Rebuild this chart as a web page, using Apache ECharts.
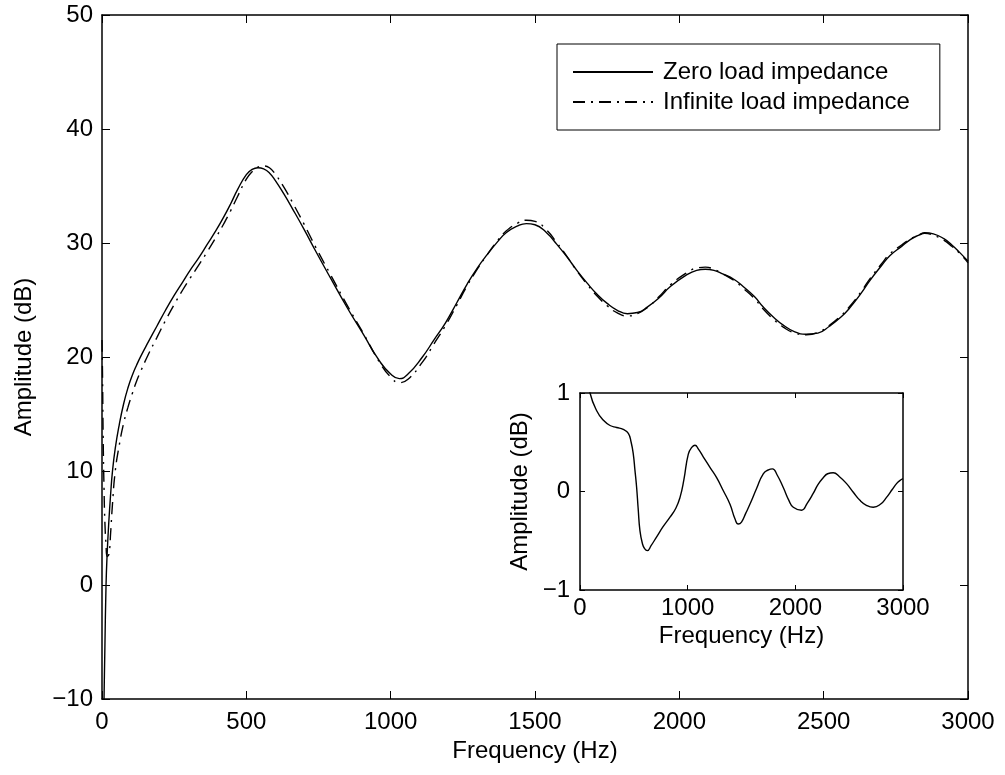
<!DOCTYPE html>
<html>
<head>
<meta charset="utf-8">
<script src="https://cdn.jsdelivr.net/npm/echarts@6/dist/echarts.min.js"></script>
<style>
html,body{margin:0;padding:0;background:#fff;}
#chart{width:1005px;height:775px;}
</style>
</head>
<body>
<div id="chart"></div>
<script>
// Main plot frequencies (Hz)
const freq = [0, 2, 4, 7, 10, 14, 18, 24, 30, 36, 46, 60, 75, 90, 105, 120, 135, 160, 190, 220, 250, 280, 305, 335, 365, 395, 420, 445, 470, 500, 520, 540, 560, 580, 600, 630, 660, 700, 740, 790, 850, 905, 960, 1000, 1030, 1060, 1110, 1150, 1190, 1230, 1265, 1300, 1335, 1370, 1400, 1440, 1470, 1500, 1540, 1575, 1610, 1645, 1680, 1715, 1750, 1785, 1820, 1855, 1890, 1930, 1970, 2025, 2060, 2090, 2120, 2150, 2190, 2220, 2260, 2290, 2330, 2360, 2400, 2440, 2480, 2520, 2560, 2590, 2630, 2660, 2700, 2730, 2770, 2800, 2830, 2850, 2880, 2915, 2945, 2970, 3000];
// Zero load impedance (dB)
const zeroLoad = [null, -22, -15, -10, -5.5, 0, 2.8, 5.7, 8, 9.9, 12, 14.1, 15.9, 17.3, 18.4, 19.3, 20.1, 21.3, 22.7, 24.1, 25.4, 26.6, 27.6, 28.7, 29.9, 31.1, 32.2, 33.4, 34.7, 36.0, 36.45, 36.6, 36.5, 36.15, 35.5, 34.3, 33.0, 31.2, 29.3, 27.0, 24.3, 22.0, 19.7, 18.5, 18.1, 18.5, 20.0, 21.5, 23.0, 24.8, 26.4, 27.8, 29.0, 30.1, 30.9, 31.5, 31.7, 31.6, 30.9, 29.9, 28.8, 27.6, 26.5, 25.5, 24.7, 24.1, 23.8, 23.9, 24.4, 25.2, 26.2, 27.2, 27.6, 27.7, 27.6, 27.3, 26.8, 26.2, 25.3, 24.4, 23.4, 22.8, 22.2, 22.0, 22.1, 22.7, 23.5, 24.3, 25.6, 26.7, 28.0, 28.9, 29.7, 30.3, 30.7, 30.9, 30.8, 30.4, 29.8, 29.2, 28.4];
// Infinite load impedance (dB)
const infLoad = [21.5, 18, 13, 8.5, 5.5, 3.5, 2.5, 2.7, 4.6, 7, 10, 12.3, 14.2, 15.6, 16.8, 17.9, 18.8, 20.2, 21.7, 23.2, 24.6, 25.9, 26.9, 28.05, 29.25, 30.5, 31.6, 32.8, 34.1, 35.6, 36.25, 36.65, 36.75, 36.6, 36.05, 34.9, 33.55, 31.65, 29.65, 27.3, 24.5, 22.1, 19.6, 18.25, 17.75, 18.05, 19.55, 21.15, 22.75, 24.6, 26.25, 27.7, 29.0, 30.2, 31.05, 31.75, 32.0, 31.9, 31.15, 30.05, 28.85, 27.55, 26.4, 25.35, 24.5, 23.87, 23.6, 23.8, 24.35, 25.3, 26.35, 27.38, 27.8, 27.88, 27.7, 27.3, 26.7, 26.06, 25.13, 24.22, 23.22, 22.62, 22.1, 21.95, 22.15, 22.78, 23.62, 24.43, 25.74, 26.85, 28.16, 29.06, 29.82, 30.36, 30.7, 30.84, 30.68, 30.26, 29.69, 29.12, 28.27];
// Inset: amplitude difference (dB)
const insetFreq = [0, 40, 70, 93, 155, 220, 279, 340, 402, 449, 475, 495, 510, 526, 540, 557, 580, 600, 625, 660, 712, 770, 836, 890, 929, 965, 1006, 1040, 1068, 1100, 1146, 1210, 1269, 1330, 1393, 1440, 1470, 1500, 1540, 1578, 1640, 1702, 1750, 1788, 1830, 1888, 1940, 1981, 2058, 2110, 2166, 2210, 2259, 2300, 2352, 2410, 2476, 2540, 2600, 2660, 2724, 2790, 2847, 2900, 2940, 2970, 3000];
const insetDiff = [3, 1.6, 1.2, 1.0, 0.82, 0.72, 0.67, 0.65, 0.63, 0.59, 0.5, 0.38, 0.22, 0.04, -0.17, -0.40, -0.53, -0.58, -0.60, -0.55, -0.46, -0.36, -0.26, -0.17, -0.06, 0.12, 0.38, 0.45, 0.47, 0.43, 0.35, 0.24, 0.14, 0.01, -0.13, -0.28, -0.33, -0.31, -0.22, -0.13, 0.03, 0.18, 0.22, 0.23, 0.17, 0.04, -0.09, -0.16, -0.19, -0.12, -0.02, 0.07, 0.14, 0.18, 0.19, 0.15, 0.08, -0.01, -0.09, -0.14, -0.16, -0.13, -0.06, 0.02, 0.08, 0.11, 0.13];

const mainX = {min: 0, max: 3000, interval: 500};
const mainY = {min: -10, max: 50, interval: 10};
const insetX = {min: 0, max: 3000, interval: 1000};
const insetY = {min: -1, max: 1, interval: 1};

const FONT = 'Liberation Sans, Arial, Helvetica, sans-serif';
const FS = 24;
const fmt = v => (v < 0 ? '\u2212' + Math.abs(v) : String(v));

function axis(base, opts) {
  return Object.assign({
    type: 'value',
    min: base.min, max: base.max, interval: base.interval,
    axisLine: {show: true, onZero: false, lineStyle: {color: '#000', width: 1.5}},
    axisTick: {show: true, inside: true, length: opts.tick, lineStyle: {color: '#000', width: 1}},
    splitLine: {show: false},
    axisLabel: opts.labels ? {show: true, color: '#000', fontFamily: FONT, fontSize: FS, margin: opts.margin, formatter: fmt} : {show: false},
    nameTextStyle: {color: '#000', fontFamily: FONT, fontSize: FS}
  }, opts.extra || {});
}

const zip = (xs, ys) => xs.map((x, i) => [x, ys[i]]);

const chart = echarts.init(document.getElementById('chart'), null, {renderer: 'canvas'});
chart.setOption({
  animation: false,
  backgroundColor: '#fff',
  grid: [
    {left: 102, top: 15, right: 37, bottom: 76, show: false},
    {left: 580, top: 393, right: 102, bottom: 185, show: true, backgroundColor: '#fff', borderWidth: 0}
  ],
  legend: {
    orient: 'vertical',
    left: 557, top: 44,
    padding: [16, 30, 16, 15],
    itemGap: 6,
    itemWidth: 80, itemHeight: 24,
    borderColor: '#000', borderWidth: 1, backgroundColor: '#fff',
    itemStyle: {opacity: 0},
    textStyle: {color: '#000', fontFamily: FONT, fontSize: FS, padding: [0, 0, 0, 5]},
    data: ['Zero load impedance', 'Infinite load impedance']
  },
  xAxis: [
    axis(mainX, {tick: 8, labels: true, margin: 11, extra: {gridIndex: 0, position: 'bottom', name: 'Frequency (Hz)', nameLocation: 'middle', nameGap: 38}}),
    axis(mainX, {tick: 8, labels: false, extra: {gridIndex: 0, position: 'top'}}),
    axis(insetX, {tick: 5, labels: true, margin: 6, extra: {gridIndex: 1, position: 'bottom', name: 'Frequency (Hz)', nameLocation: 'middle', nameGap: 34}}),
    axis(insetX, {tick: 5, labels: false, extra: {gridIndex: 1, position: 'top'}})
  ],
  yAxis: [
    axis(mainY, {tick: 8, labels: true, margin: 9, extra: {gridIndex: 0, position: 'left', name: 'Amplitude (dB)', nameLocation: 'middle', nameGap: 66}}),
    axis(mainY, {tick: 8, labels: false, extra: {gridIndex: 0, position: 'right'}}),
    axis(insetY, {tick: 5, labels: true, margin: 10, extra: {gridIndex: 1, position: 'left', name: 'Amplitude (dB)', nameLocation: 'middle', nameGap: 48}}),
    axis(insetY, {tick: 5, labels: false, extra: {gridIndex: 1, position: 'right'}})
  ],
  series: [
    {
      name: 'Zero load impedance', type: 'line', xAxisIndex: 0, yAxisIndex: 0,
      data: zip(freq, zeroLoad), symbol: 'none', smooth: 0.5, clip: true,
      lineStyle: {color: '#000', width: 1.4, type: 'solid'}, itemStyle: {color: '#000'}, z: 3
    },
    {
      name: 'Infinite load impedance', type: 'line', xAxisIndex: 0, yAxisIndex: 0,
      data: zip(freq, infLoad), symbol: 'none', smooth: 0.5, clip: true,
      lineStyle: {color: '#000', width: 1.4, type: [12, 6, 2, 6]}, itemStyle: {color: '#000'}, z: 2
    },
    {
      name: 'Difference', type: 'line', xAxisIndex: 2, yAxisIndex: 2,
      data: zip(insetFreq, insetDiff), symbol: 'none', smooth: 0.5, clip: true,
      lineStyle: {color: '#000', width: 1.4}, itemStyle: {color: '#000'}, z: 5
    }
  ]
});
</script>
</body>
</html>
